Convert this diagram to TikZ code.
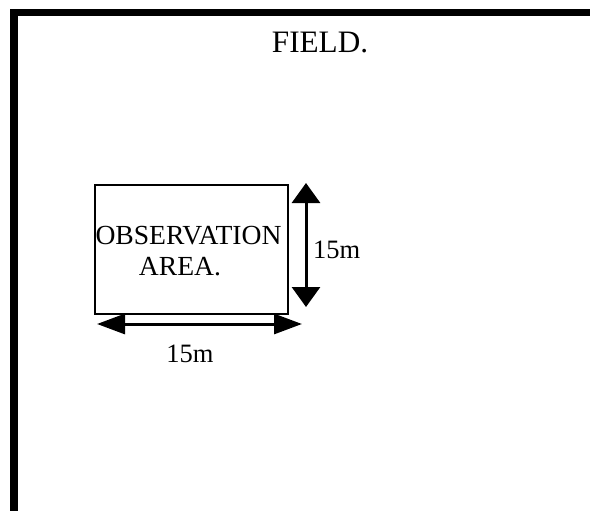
\documentclass[tikz,border=0pt]{standalone}
\usepackage{fontspec}
\setmainfont{Liberation Serif}
\usetikzlibrary{arrows.meta}
\begin{document}
\begin{tikzpicture}[x=1pt,y=-1pt,
  lbl/.style={inner sep=0pt,anchor=base,font=\fontsize{26.5}{30}\selectfont},
  boxlbl/.style={inner sep=0pt,anchor=base,font=\fontsize{27.6}{30}\selectfont},
  frameline/.style={fill=black,draw=none},
  obsbox/.style={draw=black,line width=2pt,inner sep=0pt},
  vdim/.style={line width=3pt,{Triangle[length=20pt,width=28pt]}-{Triangle[length=20pt,width=28pt]}},
  hdim/.style={line width=3pt,{Triangle[length=28pt,width=20pt]}-{Triangle[length=28pt,width=20pt]}}]
\useasboundingbox (0,0) rectangle (590,511);
% frame
\fill[frameline] (10,9) rectangle (590,16);
\fill[frameline] (10,9) rectangle (18,511);
\node[inner sep=0pt,anchor=base,font=\fontsize{31.2}{34}\selectfont] (field) at (320,53) {FIELD.};
% observation area
\node[obsbox,minimum width=193pt,minimum height=129pt] (obs) at (191.5,249.5) {};
\node[boxlbl] (t1) at (188.5,244) {OBSERVATION};
\node[boxlbl] (t2) at (180,275) {AREA.};
% vertical dimension
\coordinate (vt) at (306,183);
\coordinate (vb) at (306,307);
\draw[vdim] (vt) -- (vb);
\node[lbl,anchor=base west] (h15) at (313,258) {15m};
% horizontal dimension
\coordinate (hl) at (97,324);
\coordinate (hr) at (302,324);
\draw[hdim] (hl) -- (hr);
\node[lbl] (w15) at (190,362) {15m};
\end{tikzpicture}
\end{document}
